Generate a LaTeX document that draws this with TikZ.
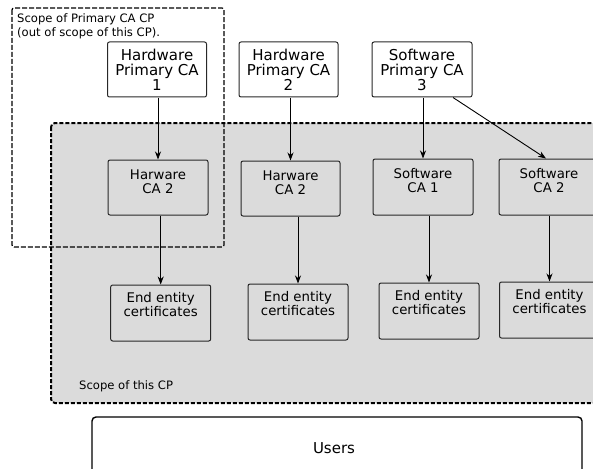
\documentclass[tikz,border=0pt]{standalone}
\usepackage{fontspec}
\setmainfont{DejaVu Sans}
\usetikzlibrary{arrows.meta,calc}
\definecolor{scopegray}{RGB}{219,219,219}
\definecolor{boxline}{RGB}{40,40,40}
\tikzset{
  cabox/.style={draw=boxline, line width=1pt, rounded corners=2pt, inner sep=0pt,
                minimum width=#1, minimum height=55pt},
  cabox/.default=99pt,
  topbox/.style={cabox, fill=white, align=center,
                 font=\fontsize{15}{15}\selectfont},
  midtxt/.style={align=center, inner sep=0pt, font=\fontsize{13.3}{14}\selectfont},
  eetxt/.style={align=center, inner sep=0pt, font=\fontsize{13.3}{13.2}\selectfont},
  smalltxt/.style={align=left, inner sep=0pt, font=\fontsize{11.6}{14}\selectfont},
  arr/.style={draw=black, line width=0.9pt,
              -{Stealth[length=8pt,width=6pt,inset=2.5pt]}},
}
\begin{document}
\begin{tikzpicture}[x=1pt,y=-1pt]
\useasboundingbox (0,0) rectangle (593,468);
\clip (0,0) rectangle (593,468);

% scope of this CP (grey area)
\draw[fill=scopegray, line width=2pt, dash pattern=on 4pt off 2pt, rounded corners=4pt]
  (51,123) rectangle (640,403);
\node[smalltxt, anchor=west] (scopecp) at (79,386) {Scope of this CP};

% scope of the primary CA CP
\draw[line width=1.2pt, dash pattern=on 5pt off 2pt, rounded corners=2pt]
  (12,8) rectangle (224,247);
\node[smalltxt, anchor=north west] (scopepca) at (17,13)
  {Scope of Primary CA CP\\(out of scope of this CP).};

% primary CAs
\node[topbox] (p1) at (157,69.5) {Hardware\\Primary CA\\1};
\node[topbox] (p2) at (288.5,69.5) {Hardware\\Primary CA\\2};
\node[topbox, minimum width=100pt] (p3) at (422,69.5) {Software\\Primary CA\\3};

% subordinate CAs
\node[cabox=100pt] (c1) at (158,187.5) {};
\node[cabox] (c2) at (290.5,188.5) {};
\node[cabox=100pt, minimum height=56pt] (c3) at (423,187) {};
\node[cabox=100pt, minimum height=56pt] (c4) at (549,187) {};
\node[midtxt] (c1t) at ($(c1.north)+(0,22)$) {Harware\\CA 2};
\node[midtxt] (c2t) at ($(c2.north)+(0,22)$) {Harware\\CA 2};
\node[midtxt] (c3t) at ($(c3.north)+(0,22)$) {Software\\CA 1};
\node[midtxt] (c4t) at ($(c4.north)+(0,22)$) {Software\\CA 2};

% end entity certificates
\node[cabox=100pt, minimum height=56pt] (e1) at (160.7,313) {};
\node[cabox=100pt, minimum height=56pt] (e2) at (298,312) {};
\node[cabox=100pt, minimum height=56pt] (e3) at (429,311) {};
\node[cabox=100pt, minimum height=56pt] (e4) at (549.5,310) {};
\node[eetxt] (e1t) at ($(e1.north)+(0,20)$) {End entity\\certificates};
\node[eetxt] (e2t) at ($(e2.north)+(0,20)$) {End entity\\certificates};
\node[eetxt] (e3t) at ($(e3.north)+(0,20)$) {End entity\\certificates};
\node[eetxt] (e4t) at ($(e4.north)+(0,20)$) {End entity\\certificates};

% users
\node[draw=black, line width=1.4pt, rounded corners=4pt, inner sep=0pt,
      minimum width=490pt, minimum height=70pt] (users) at (337,452) {};
\node[inner sep=0pt, font=\fontsize{15}{15}\selectfont] (userst) at (334,448) {Users};

% connectors
\draw[arr] (p1.south -| c1.north) -- (c1.north);
\draw[arr] (p2.south -| c2.north) -- (c2.north);
\draw[arr] (p3.south -| c3.north) -- (c3.north);
\draw[arr] ([xshift=31pt]p3.south) -- ([xshift=-3pt]c4.north);
\draw[arr] (c1.south -| e1.north) -- (e1.north);
\draw[arr] (c2.south -| e2.north) -- (e2.north);
\draw[arr] (c3.south -| e3.north) -- (e3.north);
\draw[arr] (c4.south -| e4.north) -- (e4.north);
\end{tikzpicture}
\end{document}
